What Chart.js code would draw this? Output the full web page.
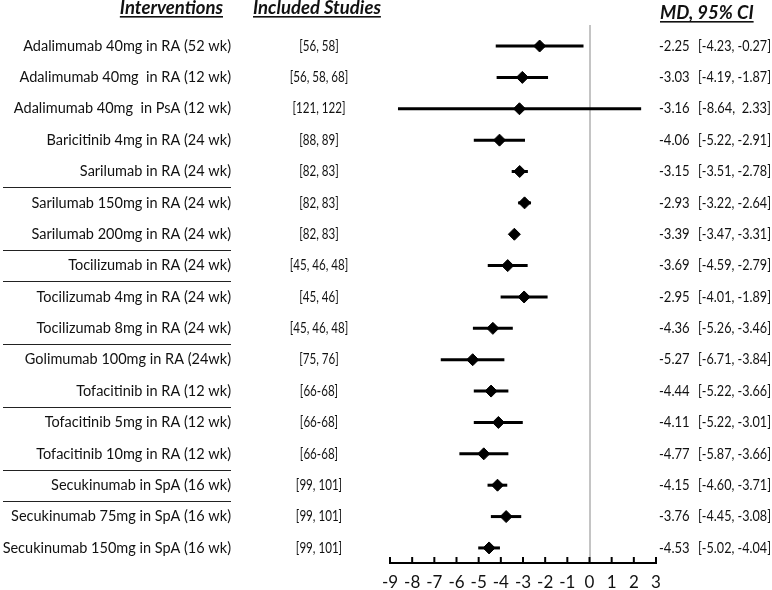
<!DOCTYPE html>
<html>
<head>
<meta charset="utf-8">
<script src="https://cdn.jsdelivr.net/npm/chart.js@4.4.1/dist/chart.umd.min.js"></script>
<style>
  html, body { margin: 0; padding: 0; background: #fff; }
  canvas { display: block; }
</style>
</head>
<body>
<canvas id="forest" width="772" height="590"></canvas>
<script>
const interventions = [
    'Adalimumab 40mg in RA (52 wk)',
    'Adalimumab 40mg  in RA (12 wk)',
    'Adalimumab 40mg  in PsA (12 wk)',
    'Baricitinib 4mg in RA (24 wk)',
    'Sarilumab in RA (24 wk)',
    'Sarilumab 150mg in RA (24 wk)',
    'Sarilumab 200mg in RA (24 wk)',
    'Tocilizumab in RA (24 wk)',
    'Tocilizumab 4mg in RA (24 wk)',
    'Tocilizumab 8mg in RA (24 wk)',
    'Golimumab 100mg in RA (24wk)',
    'Tofacitinib in RA (12 wk)',
    'Tofacitinib 5mg in RA (12 wk)',
    'Tofacitinib 10mg in RA (12 wk)',
    'Secukinumab in SpA (16 wk)',
    'Secukinumab 75mg in SpA (16 wk)',
    'Secukinumab 150mg in SpA (16 wk)'
];
const studies = [
    '[56, 58]', '[56, 58, 68]', '[121, 122]', '[88, 89]', '[82, 83]',
    '[82, 83]', '[82, 83]', '[45, 46, 48]', '[45, 46]', '[45, 46, 48]',
    '[75, 76]', '[66-68]', '[66-68]', '[66-68]', '[99, 101]', '[99, 101]', '[99, 101]'
];
const md = [-2.25, -3.03, -3.16, -4.06, -3.15, -2.93, -3.39, -3.69, -2.95, -4.36, -5.27, -4.44, -4.11, -4.77, -4.15, -3.76, -4.53];
const ciLow = [-4.23, -4.19, -8.64, -5.22, -3.51, -3.22, -3.47, -4.59, -4.01, -5.26, -6.71, -5.22, -5.22, -5.87, -4.60, -4.45, -5.02];
const ciHigh = [-0.27, -1.87, 2.33, -2.91, -2.78, -2.64, -3.31, -2.79, -1.89, -3.46, -3.84, -3.66, -3.01, -3.66, -3.71, -3.08, -4.04];
// rows after which a separator line is drawn (0-based)
const separatorsAfter = [4, 6, 7, 9, 11, 13, 14];
const xTicks = [-9, -8, -7, -6, -5, -4, -3, -2, -1, 0, 1, 2, 3];

const FONT = 'Lato, "Open Sans", sans-serif';

function fmt(v) {
    return v.toFixed(2);
}

// draw text squeezed horizontally a bit, like the narrow font in the picture
function narrowText(ctx, text, x, y, squeeze) {
    const w = ctx.measureText(text).width;
    ctx.fillText(text, x, y, w * squeeze);
}

const ciDatasets = md.map((m, i) => ({
    type: 'line',
    data: [{ x: ciLow[i], y: i }, { x: ciHigh[i], y: i }],
    borderColor: '#000',
    borderWidth: 3,
    pointRadius: 0,
    fill: false
}));

const textPlugin = {
    id: 'forestText',
    afterDraw(chart) {
        const ctx = chart.ctx;
        const y = chart.scales.y;
        const x = chart.scales.x;
        ctx.save();
        ctx.fillStyle = '#111';
        ctx.textBaseline = 'middle';

        // headers
        ctx.font = 'italic bold 18.5px ' + FONT;
        const headers = [
            { text: 'Interventions', x: 223, align: 'right', y: 8 },
            { text: 'Included Studies', x: 253, align: 'left', y: 8 },
            { text: 'MD, 95% CI', x: 660, align: 'left', y: 13 }
        ];
        headers.forEach(h => {
            ctx.textAlign = h.align;
            ctx.fillText(h.text, h.x, h.y);
            const w = ctx.measureText(h.text).width;
            const x0 = h.align === 'right' ? h.x - w : h.x;
            ctx.fillRect(x0, h.y + 8, w, 1.6);
        });

        ctx.font = '14.5px ' + FONT;
        interventions.forEach((label, i) => {
            const py = y.getPixelForValue(i);
            ctx.textAlign = 'right';
            ctx.fillText(label, 231, py);
            ctx.textAlign = 'left';
            narrowText(ctx, fmt(md[i]), 659, py, 0.9);
            const lo = fmt(ciLow[i]);
            const hi = ciHigh[i] >= 0 ? '  ' + fmt(ciHigh[i]) : ' ' + fmt(ciHigh[i]);
            ctx.fillText('[' + lo + ',' + hi + ']', 698, py, 73);
        });

        ctx.textAlign = 'center';
        studies.forEach((s, i) => {
            narrowText(ctx, s, 319, y.getPixelForValue(i), 0.8);
        });

        // separators
        ctx.strokeStyle = '#222';
        ctx.lineWidth = 1;
        separatorsAfter.forEach(r => {
            const py = Math.round(y.getPixelForValue(r + 0.5)) + 0.5;
            ctx.beginPath();
            ctx.moveTo(3, py);
            ctx.lineTo(231, py);
            ctx.stroke();
        });

        // tick marks on the x axis point upward
        ctx.strokeStyle = '#000';
        ctx.lineWidth = 2;
        const base = chart.chartArea.bottom;
        xTicks.forEach(t => {
            const px = x.getPixelForValue(t);
            ctx.beginPath();
            ctx.moveTo(px, base);
            ctx.lineTo(px, base - 6);
            ctx.stroke();
        });
        ctx.restore();
    }
};

new Chart(document.getElementById('forest').getContext('2d'), {
    type: 'scatter',
    data: {
        datasets: [
            ...ciDatasets,
            {
                type: 'scatter',
                data: md.map((m, i) => ({ x: m, y: i })),
                pointStyle: 'rectRot',
                pointRadius: 6,
                backgroundColor: '#000',
                borderColor: '#000'
            }
        ]
    },
    options: {
        responsive: false,
        animation: false,
        layout: { padding: { left: 390, right: 116, top: 25, bottom: 0 } },
        plugins: {
            legend: { display: false },
            tooltip: { enabled: false }
        },
        scales: {
            x: {
                type: 'linear',
                min: -9,
                max: 3,
                afterBuildTicks: axis => {
                    axis.ticks = xTicks.map(v => ({ value: v }));
                },
                afterFit: axis => {
                    axis.height = 27;
                },
                ticks: {
                    color: '#111',
                    font: { family: FONT, size: 17 },
                    padding: 9,
                    autoSkip: false,
                    maxRotation: 0,
                    minRotation: 0
                },
                grid: {
                    drawTicks: false,
                    color: ctx => ctx.tick && ctx.tick.value === 0 ? '#c4c4c4' : 'rgba(0,0,0,0)',
                    lineWidth: 2
                },
                border: { display: true, color: '#000', width: 2 }
            },
            y: {
                type: 'linear',
                reverse: true,
                min: -0.67,
                max: 16.48,
                display: false
            }
        }
    },
    plugins: [textPlugin]
});
</script>
</body>
</html>
